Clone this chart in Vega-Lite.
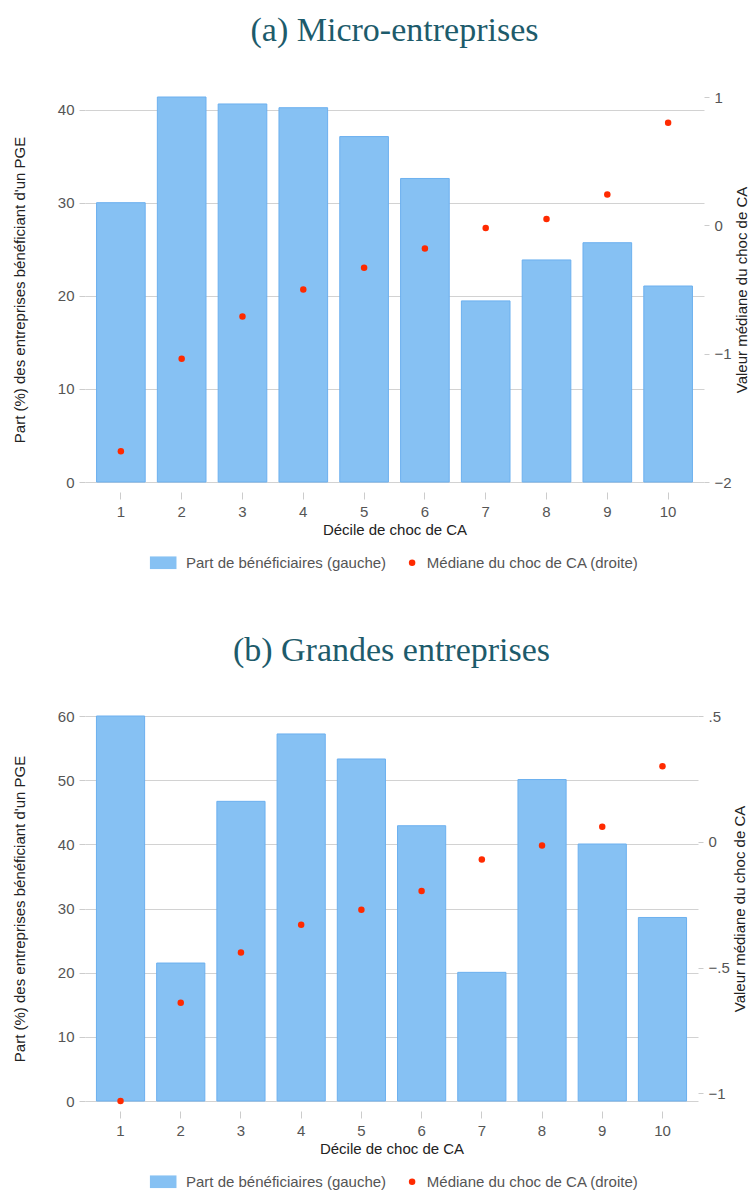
{
  "$schema": "https://vega.github.io/schema/vega-lite/v6.json",
  "background": "white",
  "padding": {"left": 12, "top": 14, "right": 0, "bottom": 0},
  "spacing": 63,
  "config": {
    "view": {"stroke": null},
    "font": "Liberation Sans",
    "axis": {
      "labelFont": "Liberation Sans",
      "labelFontSize": 15,
      "labelColor": "#555555",
      "titleFont": "Liberation Sans",
      "titleFontSize": 15,
      "titleFontWeight": "normal",
      "titleColor": "#222222",
      "tickColor": "#cccccc",
      "gridColor": "#d2d2d2",
      "domain": false
    },
    "legend": {
      "labelFont": "Liberation Sans",
      "labelFontSize": 15,
      "labelColor": "#555555",
      "labelLimit": 400,
      "symbolSize": 42,
      "symbolStrokeColor": "transparent",
      "symbolStrokeWidth": 0,
      "columnPadding": 17.8,
      "labelOffset": 7.2
    },
    "title": {
      "font": "Liberation Serif",
      "fontSize": 34,
      "fontWeight": "normal",
      "color": "#1d5b6b",
      "anchor": "middle"
    }
  },
  "datasets": {
    "micro": [
      {"decile": 1, "part": 30.0, "mediane": -1.76},
      {"decile": 2, "part": 41.35, "mediane": -1.04},
      {"decile": 3, "part": 40.6, "mediane": -0.71},
      {"decile": 4, "part": 40.2, "mediane": -0.5},
      {"decile": 5, "part": 37.1, "mediane": -0.33},
      {"decile": 6, "part": 32.6, "mediane": -0.18},
      {"decile": 7, "part": 19.45, "mediane": -0.02},
      {"decile": 8, "part": 23.85, "mediane": 0.05},
      {"decile": 9, "part": 25.7, "mediane": 0.24},
      {"decile": 10, "part": 21.05, "mediane": 0.8}
    ],
    "grandes": [
      {"decile": 1, "part": 60.0, "mediane": -1.03},
      {"decile": 2, "part": 21.5, "mediane": -0.64},
      {"decile": 3, "part": 46.7, "mediane": -0.44},
      {"decile": 4, "part": 57.2, "mediane": -0.33},
      {"decile": 5, "part": 53.3, "mediane": -0.27},
      {"decile": 6, "part": 42.9, "mediane": -0.195},
      {"decile": 7, "part": 20.05, "mediane": -0.07},
      {"decile": 8, "part": 50.1, "mediane": -0.015},
      {"decile": 9, "part": 40.05, "mediane": 0.06},
      {"decile": 10, "part": 28.6, "mediane": 0.3}
    ]
  },
  "vconcat": [
    {
      "title": {"text": "(a) Micro-entreprises", "offset": 42},
      "data": {"name": "micro"},
      "width": 619,
      "height": 385,
      "encoding": {
        "x": {
          "field": "decile",
          "type": "ordinal",
          "scale": {"paddingInner": 0.2, "paddingOuter": 0.19},
          "axis": {"title": "Décile de choc de CA", "labelAngle": 0, "offset": 10, "tickSize": 7, "labelPadding": 5, "titlePadding": 3, "grid": false}
        }
      },
      "layer": [
        {
          "mark": {"type": "bar", "stroke": "#6cb0ef", "strokeWidth": 1},
          "encoding": {
            "y": {
              "field": "part",
              "type": "quantitative",
              "scale": {"domain": [0, 41.35], "nice": false, "zero": true},
              "axis": {"title": "Part (%) des entreprises bénéficiant d'un PGE", "values": [0, 10, 20, 30, 40], "tickSize": 6, "labelPadding": 5, "titlePadding": 30, "grid": true}
            },
            "color": {
              "datum": "Part de bénéficiaires (gauche)",
              "type": "nominal",
              "scale": {"domain": ["Part de bénéficiaires (gauche)", "Médiane du choc de CA (droite)"], "range": ["#86c1f3", "#ff2a00"]},
              "legend": {"title": null, "orient": "none", "direction": "horizontal", "legendX": 78.8, "legendY": 458, "symbolStrokeColor": "transparent", "symbolStrokeWidth": 0}
            }
          }
        },
        {
          "mark": {"type": "point", "filled": true, "size": 42, "opacity": 1},
          "encoding": {
            "y": {
              "field": "mediane",
              "type": "quantitative",
              "scale": {"domain": [-2, 1], "nice": false, "zero": false},
              "axis": {"orient": "right", "title": "Valeur médiane du choc de CA", "values": [-2, -1, 0, 1], "tickSize": 5, "labelPadding": 5, "titlePadding": 3, "grid": false, "titleAngle": -90, "titleBaseline": "top", "labelExpr": "replace(format(datum.value, '~g'), '0.', '.')"}
            },
            "color": {"datum": "Médiane du choc de CA (droite)", "type": "nominal"},
            "shape": {
              "datum": "Médiane du choc de CA (droite)",
              "type": "nominal",
              "scale": {"domain": ["Part de bénéficiaires (gauche)", "Médiane du choc de CA (droite)"], "range": ["M-6.6,-1.95H1.6V1.95H-6.6Z", "circle"]},
              "legend": {"title": null, "orient": "none", "direction": "horizontal", "legendX": 78.8, "legendY": 458, "symbolStrokeColor": "transparent", "symbolStrokeWidth": 0}
            }
          }
        }
      ],
      "resolve": {"scale": {"y": "independent"}}
    },
    {
      "title": {"text": "(b) Grandes entreprises", "offset": 41},
      "data": {"name": "grandes"},
      "width": 613,
      "height": 385,
      "encoding": {
        "x": {
          "field": "decile",
          "type": "ordinal",
          "scale": {"paddingInner": 0.2, "paddingOuter": 0.19},
          "axis": {"title": "Décile de choc de CA", "labelAngle": 0, "offset": 10, "tickSize": 7, "labelPadding": 5, "titlePadding": 3, "grid": false}
        }
      },
      "layer": [
        {
          "mark": {"type": "bar", "stroke": "#6cb0ef", "strokeWidth": 1},
          "encoding": {
            "y": {
              "field": "part",
              "type": "quantitative",
              "scale": {"domain": [0, 60], "nice": false, "zero": true},
              "axis": {"title": "Part (%) des entreprises bénéficiant d'un PGE", "values": [0, 10, 20, 30, 40, 50, 60], "tickSize": 6, "labelPadding": 5, "titlePadding": 30, "grid": true}
            },
            "color": {
              "datum": "Part de bénéficiaires (gauche)",
              "type": "nominal",
              "scale": {"domain": ["Part de bénéficiaires (gauche)", "Médiane du choc de CA (droite)"], "range": ["#86c1f3", "#ff2a00"]},
              "legend": {"title": null, "orient": "none", "direction": "horizontal", "legendX": 78.8, "legendY": 458, "symbolStrokeColor": "transparent", "symbolStrokeWidth": 0}
            }
          }
        },
        {
          "mark": {"type": "point", "filled": true, "size": 42, "opacity": 1},
          "encoding": {
            "y": {
              "field": "mediane",
              "type": "quantitative",
              "scale": {"domain": [-1.03, 0.5], "nice": false, "zero": false},
              "axis": {"orient": "right", "title": "Valeur médiane du choc de CA", "values": [-1, -0.5, 0, 0.5], "tickSize": 5, "labelPadding": 5, "titlePadding": 3, "grid": false, "titleAngle": -90, "titleBaseline": "top", "labelExpr": "replace(format(datum.value, '~g'), '0.', '.')"}
            },
            "color": {"datum": "Médiane du choc de CA (droite)", "type": "nominal"},
            "shape": {
              "datum": "Médiane du choc de CA (droite)",
              "type": "nominal",
              "scale": {"domain": ["Part de bénéficiaires (gauche)", "Médiane du choc de CA (droite)"], "range": ["M-6.6,-1.95H1.6V1.95H-6.6Z", "circle"]},
              "legend": {"title": null, "orient": "none", "direction": "horizontal", "legendX": 78.8, "legendY": 458, "symbolStrokeColor": "transparent", "symbolStrokeWidth": 0}
            }
          }
        }
      ],
      "resolve": {"scale": {"y": "independent"}}
    }
  ],
  "resolve": {
    "scale": {"color": "independent", "shape": "independent"},
    "legend": {"color": "independent", "shape": "independent"}
  }
}
